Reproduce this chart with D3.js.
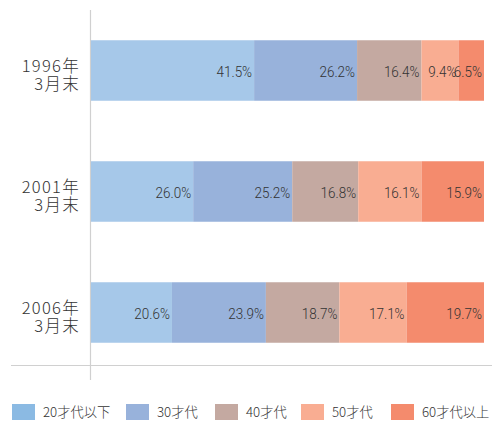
<!DOCTYPE html>
<html lang="ja">
<head>
<meta charset="UTF-8">
<script src="https://d3js.org/d3.v7.min.js"></script>
<style>
  body { margin: 0; background: #fff; }
  svg { display: block; }
  .ylab { font-family: "Noto Sans CJK JP", sans-serif; font-weight: 300; font-size: 16.5px; fill: #333; letter-spacing: 1.3px; }
  .val { font-family: "Roboto", sans-serif; font-weight: 300; font-size: 14.5px; fill: #333; }
  .leg { font-family: "Noto Sans CJK JP", sans-serif; font-weight: 300; font-size: 13.3px; fill: #333; }
</style>
</head>
<body>
<div id="chart"></div>
<script>
// data
const years = ["1996年", "2001年", "2006年"];
const yearSub = ["3月末", "3月末", "3月末"];
const groups = ["20才代以下", "30才代", "40才代", "50才代", "60才代以上"];
const v1996 = [41.5, 26.2, 16.4, 9.4, 6.5];
const v2001 = [26.0, 25.2, 16.8, 16.1, 15.9];
const v2006 = [20.6, 23.9, 18.7, 17.1, 19.7];
const barColors = ["#a6c8e9", "#98b2db", "#c4a9a1", "#f9ad92", "#f48b6d"];
const legColors = ["#8bbae3", "#98b2db", "#c4a9a1", "#f9ad92", "#f48b6d"];

const width = 492, height = 434;
const svg = d3.select("#chart").append("svg")
    .attr("width", width).attr("height", height);

const x = d3.scaleLinear().domain([0, 100]).range([91, 484]);
const y = d3.scaleBand().domain(years).range([10, 373]).paddingInner(0.5).paddingOuter(0.25);

const rows = [v1996, v2001, v2006].map((vals, i) => {
  let acc = 0;
  return vals.map((v, j) => {
    const d = { year: years[i], g: j, v: v, x0: acc, x1: acc + v };
    acc += v;
    return d;
  });
});

// axis lines
svg.append("line").attr("x1", 90.5).attr("x2", 90.5).attr("y1", 10).attr("y2", 380)
  .attr("stroke", "#d0d0d0").attr("stroke-width", 1.2);
svg.append("line").attr("x1", 11).attr("x2", 492).attr("y1", 365.5).attr("y2", 365.5)
  .attr("stroke", "#d0d0d0").attr("stroke-width", 1.2);

const seg = svg.append("g").selectAll("g").data(rows.flat()).join("g");
seg.append("rect")
  .attr("x", d => x(d.x0))
  .attr("width", d => x(d.x1) - x(d.x0))
  .attr("y", d => y(d.year))
  .attr("height", y.bandwidth())
  .attr("fill", d => barColors[d.g]);
// condensed value labels
seg.append("text").attr("class", "val")
  .attr("transform", d => `translate(${x(d.x1) - 2},${y(d.year) + y.bandwidth() / 2 + 6}) scale(0.93,1)`)
  .attr("text-anchor", "end")
  .text(d => d.v.toFixed(1) + "%");

// y labels
const yl = svg.append("g").selectAll("text").data(years).join("text")
  .attr("class", "ylab").attr("text-anchor", "end")
  .attr("x", 80)
  .attr("y", d => y(d) + y.bandwidth() / 2 + 1);
yl.append("tspan").attr("x", 80).text(d => d);
yl.append("tspan").attr("x", 80).attr("dy", 18.5).text((d, i) => yearSub[i]);

// legend
const legX = [12, 126, 215, 301, 391];
const leg = svg.append("g").selectAll("g").data(groups).join("g")
  .attr("transform", (d, i) => `translate(${legX[i]},404)`);
leg.append("rect").attr("width", 23).attr("height", 16).attr("fill", (d, i) => legColors[i]);
leg.append("text").attr("class", "leg").attr("x", 31).attr("y", 13).text(d => d);
</script>
</body>
</html>
